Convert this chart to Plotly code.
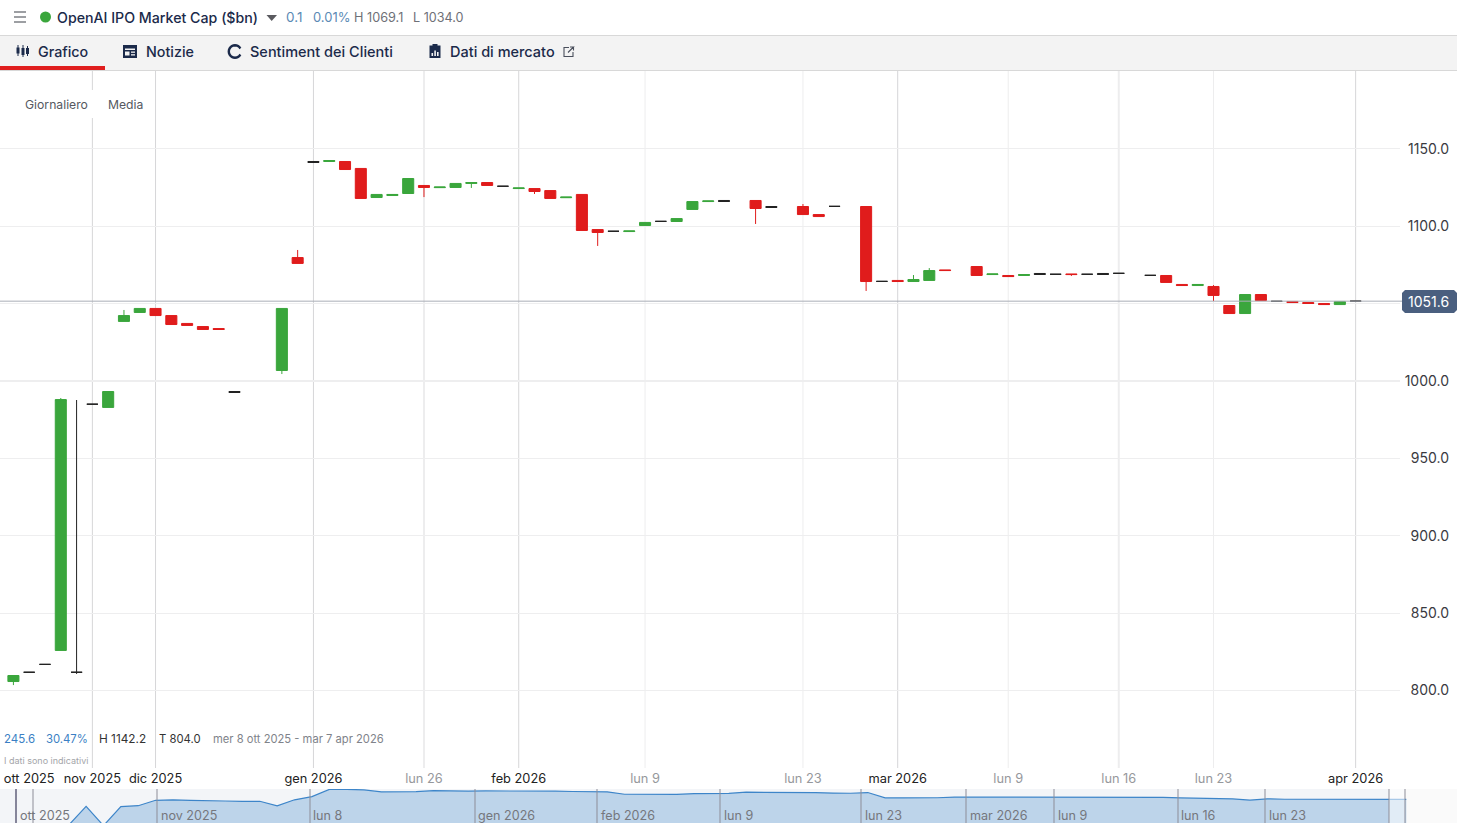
import math
import plotly.graph_objects as go

W, H = 1457, 823
FONT = "Inter"

# daily candles, by session number (sessions with no candle are simply absent)
sessions = [0,1,2,3,4,5,6,7,8,9,10,11,12,13,14,17,18,19,20,21,22,23,24,25,26,27,28,29,30,31,32,33,34,35,36,37,38,39,40,41,42,43,44,45,47,48,50,51,52,54,55,56,57,58,59,61,62,63,64,65,66,67,68,69,70,72,73,74,75,76,77,78,79,80,81,82,83,84,85]
opens = [805.7,811.7,816.8,825.8,811.7,985.0,982.9,1038.5,1044.3,1046.9,1042.3,1037.2,1035.2,1033.9,993.2,1006.8,1079.8,1141.9,1141.9,1141.9,1137.4,1118.6,1119.9,1121.2,1126.4,1125.0,1125.1,1127.7,1128.3,1125.9,1124.4,1124.4,1123.1,1118.5,1120.6,1097.9,1096.8,1096.6,1100.5,1103.2,1103.1,1110.9,1116.0,1116.7,1116.7,1112.8,1112.8,1107.6,1112.9,1112.8,1064.4,1065.0,1064.3,1065.0,1071.8,1074.0,1068.8,1068.2,1068.2,1069.5,1069.0,1069.2,1069.0,1069.5,1069.6,1068.3,1068.2,1062.4,1061.7,1061.1,1048.8,1043.6,1055.9,1051.5,1051.4,1050.7,1050.1,1049.4,1051.6]
highs = [809.6,811.7,816.8,989.0,987.7,985.0,993.2,1045.9,1046.9,1046.9,1042.3,1037.2,1035.2,1033.9,993.2,1046.9,1084.7,1141.9,1142.5,1141.9,1137.4,1120.6,1120.6,1130.9,1126.4,1125.4,1127.7,1128.3,1128.3,1125.9,1124.8,1124.4,1123.1,1118.9,1120.6,1097.9,1096.8,1097.0,1102.5,1103.2,1105.0,1116.0,1116.4,1116.7,1116.7,1112.8,1114.4,1107.6,1112.9,1112.8,1064.4,1065.0,1068.5,1073.0,1071.8,1074.0,1069.2,1068.2,1068.8,1069.5,1069.0,1069.2,1069.0,1069.5,1069.6,1068.3,1068.2,1062.4,1062.4,1062.0,1048.8,1055.9,1055.9,1051.5,1051.4,1050.7,1050.1,1051.4,1051.6]
lows = [803.4,811.7,816.8,825.8,810.6,985.0,982.9,1038.5,1044.3,1042.3,1036.5,1035.9,1033.3,1033.3,992.6,1004.5,1076.0,1141.3,1141.9,1136.7,1118.0,1118.6,1119.9,1121.2,1118.9,1125.0,1125.1,1124.8,1126.4,1125.9,1124.4,1120.9,1118.0,1118.5,1097.3,1087.3,1096.8,1096.6,1100.5,1103.2,1103.1,1110.9,1116.0,1116.1,1101.5,1112.2,1107.6,1106.3,1112.9,1058.2,1064.4,1064.3,1064.3,1065.0,1071.4,1068.2,1068.8,1067.5,1068.2,1068.9,1069.0,1067.9,1069.0,1068.9,1069.6,1068.3,1063.7,1061.7,1061.7,1051.7,1043.6,1043.6,1052.0,1051.5,1050.7,1050.1,1049.4,1049.4,1051.6]
closes = [809.6,811.7,816.8,988.0,811.7,985.0,993.2,1042.3,1046.9,1042.3,1036.5,1035.9,1033.3,1033.3,992.6,1046.9,1076.0,1141.3,1142.5,1136.7,1118.0,1120.6,1120.6,1130.9,1125.1,1125.4,1127.7,1128.3,1126.4,1125.9,1124.8,1122.5,1118.0,1118.9,1097.3,1096.0,1096.8,1097.0,1102.5,1103.2,1105.0,1116.0,1116.4,1116.1,1111.5,1112.2,1107.6,1106.3,1112.9,1064.3,1064.4,1064.3,1065.6,1071.4,1071.4,1068.2,1069.2,1067.5,1068.8,1068.9,1069.0,1068.8,1069.0,1068.9,1069.6,1068.3,1063.7,1061.7,1062.4,1055.3,1043.6,1055.9,1052.0,1051.5,1050.7,1050.1,1049.4,1051.4,1051.6]
black_sessions = [1,2,4,5,14,19,31,38,41,45,48,52,55,65,66,68,69,70,72,80,85]

last_price = 1051.6
y_ticks = [800,850,900,950,1000,1050,1100,1150]
y_labels = ["800.0","850.0","900.0","950.0","1000.0","","1100.0","1150.0"]

major_ticks = [1,5,9,19,32,56,85]
major_labels = ["ott 2025","nov 2025","dic 2025","gen 2026","feb 2026","mar 2026","apr 2026"]
minor_ticks = [26,40,50,63,70,76]
minor_labels = ["lun 26","lun 9","lun 23","lun 9","lun 16","lun 23"]
major_grid = [5,9,19,32,56,85]

nav_labels = ["ott 2025","nov 2025","lun 8","gen 2026","feb 2026","lun 9","lun 23","mar 2026","lun 9","lun 16","lun 23"]
nav_label_px = [20,161,313,478,601,724,865,970,1058,1181,1269]
nav_line_px = [33,157,310,475,597,720,861,966,1054,1178,1265]

def px(x): return x / W
def py(y): return 1 - y / H

shapes, ann = [], []

def rect(x0, y0, x1, y1, fill, layer="below", line=None, lw=0, opacity=1):
    shapes.append(dict(type="rect", xref="paper", yref="paper", x0=px(x0), x1=px(x1), y0=py(y0), y1=py(y1),
                       fillcolor=fill, line=dict(width=lw, color=line or fill), layer=layer, opacity=opacity))

def hline(x0, x1, y, color, w=1, layer="below"):
    shapes.append(dict(type="line", xref="paper", yref="paper", x0=px(x0), x1=px(x1), y0=py(y), y1=py(y),
                       line=dict(color=color, width=w), layer=layer))

def vline(x, y0, y1, color, w=1, layer="below"):
    shapes.append(dict(type="line", xref="paper", yref="paper", x0=px(x), x1=px(x), y0=py(y0), y1=py(y1),
                       line=dict(color=color, width=w), layer=layer))

def poly(pts, fill=None, line=None, w=0, close=True):
    d = "M " + " L ".join(f"{px(a):.5f},{py(b):.5f}" for a, b in pts) + (" Z" if close else "")
    shapes.append(dict(type="path", xref="paper", yref="paper", path=d, layer="above",
                       fillcolor=fill if fill else "rgba(0,0,0,0)",
                       line=dict(width=w, color=line or "rgba(0,0,0,0)")))

def text(x, y, s, size=13, color="#222", anchor="left", weight=None, bg=None):
    f = dict(family=FONT, size=size, color=color)
    if weight: f["weight"] = weight
    a = dict(xref="paper", yref="paper", x=px(x), y=py(y), text=s, showarrow=False, xanchor=anchor,
             yanchor="middle", font=f, borderpad=0, borderwidth=0)
    if bg: a["bgcolor"] = bg
    ann.append(a)

NAVY = "#1b2a4a"
# header
rect(0, 36, W, 70, "#f3f3f3")
hline(0, W, 35.5, "#d8d8d8")
hline(0, W, 70.5, "#d8d8d8")
rect(0, 66, 105, 70, "#e01e1e", layer="above")
for yy in (12, 17, 22):
    hline(14, 26, yy, "#85878c", 1.6, "above")
shapes.append(dict(type="circle", xref="paper", yref="paper", x0=px(40), x1=px(51), y0=py(22.5), y1=py(11.5),
                   fillcolor="#3aa63c", line=dict(width=0), layer="above"))
poly([(266.5, 15), (277, 15), (271.7, 21)], fill="#5a5a5f")
text(57, 17.5, "OpenAI IPO Market Cap ($bn)", 14.2, NAVY, weight=500)
text(286, 17.5, "0.1", 13.5, "#5b8ab5")
text(312.5, 17.5, "0.01%", 13, "#5b8ab5")
text(354, 17.5, "H 1069.1", 12.7, "#6e7077")
text(413, 17.5, "L 1034.0", 12.6, "#6e7077")

# tabs
text(37.5, 52, "Grafico", 14.3, NAVY, weight=500)
text(145.5, 52, "Notizie", 14.3, NAVY, weight=500)
text(250, 52, "Sentiment dei Clienti", 14.5, NAVY, weight=500)
text(450, 52, "Dati di mercato", 14.5, NAVY, weight=500)
# candle icon
for x, y0, y1, b0, b1 in ((18, 45, 56, 47.5, 53.5), (23, 45, 57, 48, 55), (27.5, 46, 56, 48, 54)):
    vline(x, y0, y1, NAVY, 1, "above")
    rect(x - 1.5, b0, x + 1.5, b1, NAVY, "above")
# news icon
rect(123, 45, 137, 58, NAVY, "above")
rect(125, 48.5, 135, 50, "#f3f3f3", "above")
rect(125, 51.5, 129.5, 55.5, "#f3f3f3", "above")
rect(131, 51.5, 135, 52.8, "#f3f3f3", "above")
rect(131, 54.2, 135, 55.5, "#f3f3f3", "above")
# refresh icon
arc = [(235 + 6.2 * math.cos(math.radians(a)), 51.5 - 6.2 * math.sin(math.radians(a))) for a in range(30, 345, 15)]
poly(arc, line=NAVY, w=2.4, close=False)
# clipboard icon
rect(429.5, 45.5, 440.5, 58, NAVY, "above")
rect(432.5, 44, 437.5, 47, NAVY, "above")
for x, y0 in ((431.5, 53), (434.3, 50.5), (437, 52)):
    rect(x, y0, x + 1.6, 56, "#f3f3f3", "above")
# external link
poly([(569, 47.5), (564, 47.5), (564, 56.5), (573, 56.5), (573, 52)], line="#4a4f5c", w=1.1, close=False)
poly([(568, 52.5), (573.5, 47), (570, 47), (573.5, 47), (573.5, 50.5)], line="#4a4f5c", w=1.1, close=False)

# chart top-left labels on a white strip
rect(14, 90, 150, 118, "#ffffff", "above")
text(25, 104.5, "Giornaliero", 12.2, "#55585f")
text(108, 104.5, "Media", 12.2, "#55585f")

# bottom info
text(3.5, 739, "245.6", 11.5, "#3b7fc4")
text(46, 739, "30.47%", 11.3, "#3b7fc4")
text(98.5, 739, "H 1142.2", 11.8, "#333")
text(158.5, 739, "T 804.0", 11.3, "#333")
text(213, 739, "mer 8 ott 2025 - mar 7 apr 2026", 11.2, "#80838a")
text(4, 760.5, "I dati sono indicativi", 9, "#a3a5a9")

# grid lines at the session ticks
for s in major_grid:
    shapes.append(dict(type="line", xref="x", yref="paper", x0=s, x1=s, y0=py(768), y1=py(71),
                       line=dict(color="#d6d6d8", width=1), layer="below"))
for s, w in zip(minor_ticks, [2, 1, 1, 1, 2, 1]):
    shapes.append(dict(type="line", xref="x", yref="paper", x0=s, x1=s, y0=py(768), y1=py(71),
                       line=dict(color="#ededee", width=w), layer="below"))
# the round-number level is drawn heavier
shapes.append(dict(type="line", xref="paper", yref="y", x0=0, x1=px(1400), y0=1000, y1=1000,
                   line=dict(color="#eeeeef", width=2), layer="below"))

# last-price line and tag
shapes.append(dict(type="line", xref="paper", yref="y", x0=0, x1=px(1402), y0=last_price, y1=last_price,
                   line=dict(color="#a9adb7", width=1), layer="above"))
corner = [(1402, 293), (1405, 290), (1454, 290), (1457, 293), (1457, 310), (1454, 313), (1405, 313), (1402, 310)]
poly(corner, fill="#4a5f7f")
text(1428.7, 301.5, "1051.6", 14, "#ffffff", "center")

# navigator
rect(0, 789, 1405, 823, "#f3f5f8")
rect(1405, 789, W, 823, "#fafafa")
for xx in nav_line_px:
    vline(xx, 789, 823, "#8d8d98", 1, "above")
for xx, s in zip(nav_label_px, nav_labels):
    text(xx, 815, s, 12.6, "#75777d")
rect(15, 789, 17, 823, "#85859a", "above")
rect(1389, 789, 1405, 823, "#ffffff", "above", opacity=0.55)
vline(1389, 789, 823, "#8d8d98", 1, "above")
vline(1405, 789, 823, "#8d8d98", 1, "above")

GREEN, RED, BLACK = "#3aa63c", "#e01c1c", "#222222"

def pick(keep):
    idx = [i for i, s in enumerate(sessions) if keep(s)]
    return dict(x=[sessions[i] for i in idx], open=[opens[i] for i in idx], high=[highs[i] for i in idx],
                low=[lows[i] for i in idx], close=[closes[i] for i in idx])

fig = go.Figure()
fig.add_trace(go.Candlestick(**pick(lambda s: s not in black_sessions), whiskerwidth=0,
                             increasing=dict(line=dict(color=GREEN, width=1), fillcolor=GREEN),
                             decreasing=dict(line=dict(color=RED, width=1), fillcolor=RED),
                             xaxis="x", yaxis="y", hoverinfo="skip"))
fig.add_trace(go.Candlestick(**pick(lambda s: s in black_sessions), whiskerwidth=0,
                             increasing=dict(line=dict(color=BLACK, width=1), fillcolor=BLACK),
                             decreasing=dict(line=dict(color=BLACK, width=1), fillcolor=BLACK),
                             xaxis="x", yaxis="y", hoverinfo="skip"))
nav_k = list(range(len(closes) + 1))
nav_v = closes + [closes[-1]]
fig.add_trace(go.Scatter(x=nav_k, y=nav_v, mode="lines", line=dict(color="#3d85c9", width=1.2),
                         fill="tozeroy", fillcolor="#bdd4ea", xaxis="x2", yaxis="y2", hoverinfo="skip"))

tickvals = major_ticks + minor_ticks
ticktext = [f'<span style="color:#222222">{t}</span>' for t in major_labels] + \
           [f'<span style="color:#96989c">{t}</span>' for t in minor_labels]

fig.update_layout(
    width=W, height=H, autosize=False, showlegend=False,
    margin=dict(l=0, r=0, t=0, b=0, pad=0),
    paper_bgcolor="#ffffff", plot_bgcolor="rgba(0,0,0,0)",
    font=dict(family=FONT, size=13, color="#333"),
    boxgap=0,
    xaxis=dict(domain=[0, 1400 / W], range=[-0.85, 87.81], anchor="y", tickmode="array", tickvals=tickvals,
               ticktext=ticktext, showgrid=False, zeroline=False, showline=False, ticks="", rangeslider=dict(visible=False),
               tickfont=dict(family=FONT, size=12.8), ticklabelstandoff=1, fixedrange=True),
    yaxis=dict(domain=[py(768), py(71)], range=[749.8, 1200.4], anchor="free", position=1449 / W, side="left",
               tickmode="array", tickvals=y_ticks, ticktext=y_labels, showgrid=True, gridcolor="#eeeeef", gridwidth=1,
               zeroline=False, showline=False, ticks="", tickfont=dict(family=FONT, size=14, color="#3a3a3f"),
               fixedrange=True),
    xaxis2=dict(domain=[0, 1], range=[-1.957, 81.92], anchor="y2", visible=False, fixedrange=True),
    yaxis2=dict(domain=[0, 34 / H], range=[836, 1145], anchor="x2", visible=False, fixedrange=True),
    shapes=shapes, annotations=ann,
)
fig.write_html("out.html", config=dict(displayModeBar=False),
               post_script="document.body.style.margin='0';document.body.style.overflow='hidden';")
